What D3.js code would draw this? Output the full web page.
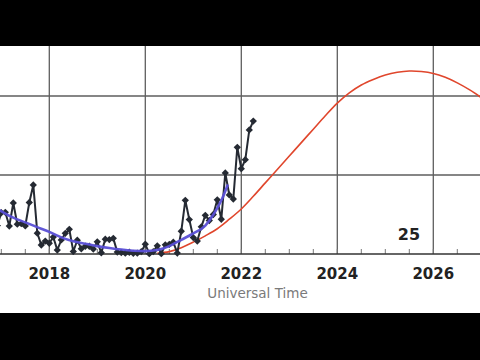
<!DOCTYPE html>
<html lang="en">
<head>
    <meta charset="UTF-8">
    <title>Solar Cycle 25 Progression</title>
    <script src="https://d3js.org/d3.v7.min.js"></script>
    <style>
        body { margin: 0; background: #000; }
        svg { display: block; }
    </style>
</head>
<body>
    <div id="chart"></div>

    <script>
        var obsStart = 2016 + 11 / 12;
        var observed = [
            18,
            26.1, 26.4, 17.7, 32.3, 18.9, 19.2, 17.8, 32.6, 43.7, 13.2, 5.7, 8.2,
            6.8, 10.7, 2.5, 8.9, 13.1, 15.6, 1.6, 8.7, 3.3, 4.9, 4.9, 3.1,
            7.7, 0.8, 9.4, 9.1, 9.9, 1.2, 0.9, 0.5, 1.1, 0.4, 0.5, 1.5,
            6.2, 0.2, 1.5, 5.2, 0.2, 5.8, 6.1, 7.5, 0.6, 14.4, 34.0, 21.8,
            10.4, 8.2, 17.2, 24.5, 21.2, 25.0, 34.3, 22.0, 51.3, 37.4, 34.8, 67.5,
            54.0, 59.7, 78.5, 84.1
        ];

        // Smoothed values (purple line)
        var smoothYears = [2016.95, 2017.25, 2017.5, 2017.75, 2018.0, 2018.25, 2018.5, 2018.75,
            2019.0, 2019.25, 2019.5, 2019.75, 2020.0, 2020.25, 2020.5, 2020.75,
            2021.0, 2021.25, 2021.42, 2021.6, 2021.72];
        var smoothVals = [28, 23, 20, 17, 14, 10.5, 8, 6.5,
            5, 3.8, 2.8, 2.1, 1.8, 2.5, 5, 9,
            13, 18, 25, 35, 44];

        // Predicted cycle 25 (red curve), quarter-year steps from 2020.25
        var predStart = 2020.25;
        var predVals = [0.5, 1.5, 4, 7.5, 11.5, 16, 22, 28.5, 36.5, 45, 53.5, 62, 70.5, 79, 87.5,
            95.5, 102, 107, 110.5, 113.3, 115, 115.8, 115.5, 114.3, 111.8, 108.3, 104, 99];

        var gridYears = [2016, 2018, 2020, 2022, 2024, 2026];
        var tickLabels = [2018, 2020, 2022, 2024, 2026];
        var gridVals = [50, 100, 150];
        var cycleLabel = "25";

        var W = 480, H = 360;
        var svg = d3.select("#chart").append("svg")
            .attr("width", W)
            .attr("height", H);

        svg.append("rect").attr("width", W).attr("height", H).attr("fill", "#fff");

        var x = d3.scaleLinear().domain([2018, 2020]).range([49.3, 145.3]);
        var y = d3.scaleLinear().domain([0, 50]).range([254, 175]);

        // Grid
        svg.append("g").selectAll("line")
            .data(gridYears)
            .enter().append("line")
            .attr("x1", d => x(d)).attr("x2", d => x(d))
            .attr("y1", y(160)).attr("y2", y(0))
            .attr("stroke", "#5e5e5e").attr("stroke-width", 1.3);

        svg.append("g").selectAll("line")
            .data(gridVals)
            .enter().append("line")
            .attr("x1", 0).attr("x2", W)
            .attr("y1", d => y(d)).attr("y2", d => y(d))
            .attr("stroke", "#5e5e5e").attr("stroke-width", 1.3);

        // Minor ticks (half-year)
        var minor = d3.range(2017, 2027.01, 0.5);
        svg.append("g").selectAll("line")
            .data(minor)
            .enter().append("line")
            .attr("x1", d => x(d)).attr("x2", d => x(d))
            .attr("y1", y(0) - 5).attr("y2", y(0))
            .attr("stroke", "#777").attr("stroke-width", 1);

        // Axis line
        svg.append("line")
            .attr("x1", 0).attr("x2", W)
            .attr("y1", y(0)).attr("y2", y(0))
            .attr("stroke", "#333").attr("stroke-width", 1.6);

        // Tick labels
        svg.append("g").selectAll("text")
            .data(tickLabels)
            .enter().append("text")
            .attr("x", d => x(d))
            .attr("y", 279)
            .attr("text-anchor", "middle")
            .style("font-family", "'DejaVu Sans', sans-serif")
            .style("font-weight", "bold")
            .style("font-size", "15px")
            .attr("fill", "#222")
            .text(d => d);

        svg.append("text")
            .attr("x", 257.5).attr("y", 298)
            .attr("text-anchor", "middle")
            .style("font-family", "'DejaVu Sans', sans-serif")
            .style("font-size", "13.5px")
            .attr("fill", "#7a7a7a")
            .text("Universal Time");

        svg.append("text")
            .attr("x", 409).attr("y", 240)
            .attr("text-anchor", "middle")
            .style("font-family", "'DejaVu Sans', sans-serif")
            .style("font-weight", "bold")
            .style("font-size", "16px")
            .attr("fill", "#222")
            .text(cycleLabel);

        // Predicted curve
        var pred = predVals.map((v, i) => [predStart + i / 4, v]);
        svg.append("path")
            .datum(pred)
            .attr("fill", "none")
            .attr("stroke", "#e0462c")
            .attr("stroke-width", 1.6)
            .attr("d", d3.line().x(d => x(d[0])).y(d => y(d[1])).curve(d3.curveCatmullRom));

        // Observed
        var obs = observed.map((v, i) => [obsStart + i / 12, v]);
        svg.append("path")
            .datum(obs)
            .attr("fill", "none")
            .attr("stroke", "#252a33")
            .attr("stroke-width", 2)
            .attr("d", d3.line().x(d => x(d[0])).y(d => y(d[1])));

        svg.append("g").selectAll("path")
            .data(obs)
            .enter().append("path")
            .attr("transform", d => "translate(" + x(d[0]) + "," + y(d[1]) + ")")
            .attr("d", d3.symbol().type(d3.symbolDiamond2).size(34))
            .attr("fill", "#252a33");

        // Smoothed
        var smooth = smoothYears.map((d, i) => [d, smoothVals[i]]);
        svg.append("path")
            .datum(smooth)
            .attr("fill", "none")
            .attr("stroke", "#5a4fd6")
            .attr("stroke-width", 2.6)
            .attr("stroke-opacity", 0.95)
            .attr("d", d3.line().x(d => x(d[0])).y(d => y(d[1])).curve(d3.curveMonotoneX));

        // Letterbox bars
        svg.append("rect").attr("x", 0).attr("y", 0).attr("width", W).attr("height", 46).attr("fill", "#000");
        svg.append("rect").attr("x", 0).attr("y", 313).attr("width", W).attr("height", H - 313).attr("fill", "#000");
    </script>
</body>
</html>
